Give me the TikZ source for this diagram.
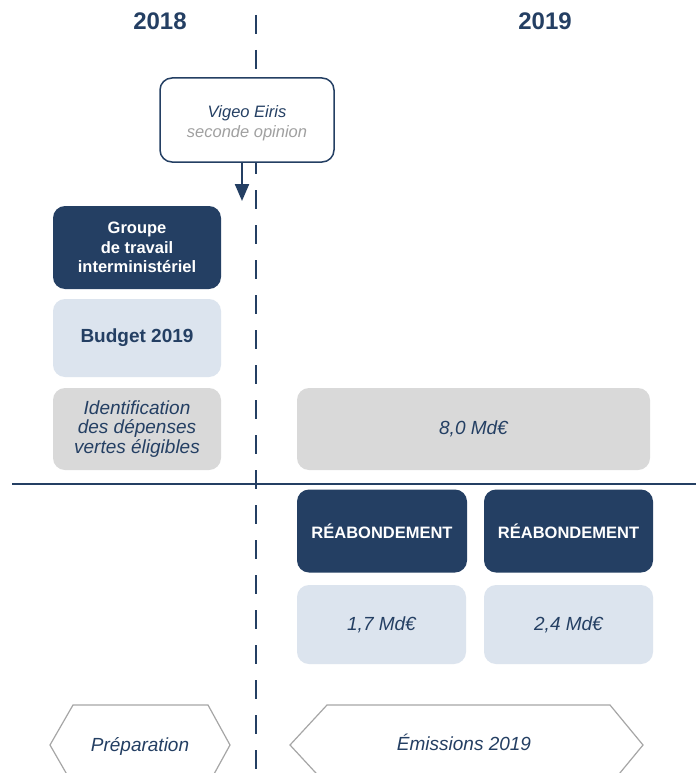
\documentclass[tikz,border=0pt]{standalone}
\usepackage{fontspec}
\setmainfont{Liberation Sans}
\usetikzlibrary{arrows.meta}
\definecolor{navy}{HTML}{243F63}
\definecolor{paleblue}{HTML}{DCE4EE}
\definecolor{palegray}{HTML}{D9D9D9}
\definecolor{midgray}{HTML}{A6A6A6}
\definecolor{softgray}{HTML}{A0A0A0}
\tikzset{
  box/.style={rounded corners=12pt, inner sep=0pt, align=center, text=navy},
  darkbox/.style={box, fill=navy, text=white, font=\bfseries\fontsize{16.5}{19.5}\selectfont},
  lightbox/.style={box, fill=paleblue},
  greybox/.style={box, fill=palegray},
  itext/.style={font=\itshape\fontsize{19}{19.5}\selectfont},
  year/.style={text=navy, font=\bfseries\fontsize{24}{26}\selectfont},
  hexa/.style={draw=midgray, line width=1.2pt, fill=white},
}
\begin{document}
\begin{tikzpicture}[x=1pt, y=-1pt]
\clip (0,0) rectangle (696,773);
\fill[white] (0,0) rectangle (696,773);

% year headings
\node[year] (y2018) at (160,21) {2018};
\node[year] (y2019) at (545,21) {2019};

% timeline divisions
\coordinate (divtop) at (256,15);
\coordinate (divbot) at (256,773);
\draw[navy, line width=1.5pt, dash pattern=on 19pt off 16pt] (divtop) -- (divbot);
\coordinate (hleft) at (12,484);
\coordinate (hright) at (696,484);
\draw[navy, line width=1.5pt] (hleft) -- (hright);

% second opinion
\node[box, draw=navy, line width=1.5pt, fill=white, minimum width=174pt, minimum height=84pt] (vigeo) at (247,120) {};
\node[text=navy, align=center, font=\itshape\fontsize{16.5}{20}\selectfont] (vigeotxt) at (247,123)
  {Vigeo Eiris\\\textcolor{softgray}{seconde opinion}};
\coordinate (arrowtip) at (242,201);
\draw[navy, line width=2.2pt, -{Triangle[width=14pt,length=17pt]}] (vigeo.south -| arrowtip) -- (arrowtip);

% 2018 column
\node[darkbox, minimum width=168pt, minimum height=83pt] (groupe) at (137,247.5)
  {Groupe\\de travail\\interministériel};
\node[lightbox, minimum width=168pt, minimum height=78pt,
      font=\bfseries\fontsize{19}{19}\selectfont] (budget) at (137,338) {Budget 2019};
\node[greybox, itext, minimum width=168pt, minimum height=82pt] (ident) at (137,429)
  {Identification\\des dépenses\\vertes éligibles};

% 2019 column
\node[greybox, itext, minimum width=353pt, minimum height=82pt] (total) at (473.5,429) {8,0 Md€};
\node[darkbox, minimum width=170pt, minimum height=83pt] (reab1) at (382,531) {RÉABONDEMENT};
\node[darkbox, minimum width=169pt, minimum height=83pt] (reab2) at (568.5,531) {RÉABONDEMENT};
\node[lightbox, itext, minimum width=169pt, minimum height=79pt] (amt1) at (381.5,624.5) {1,7 Md€};
\node[lightbox, itext, minimum width=169pt, minimum height=79pt] (amt2) at (568.5,624.5) {2,4 Md€};

% phases
\draw[hexa] (50,745) -- (73,705) -- (208,705) -- (230,745) -- (208,785) -- (73,785) -- cycle;
\node[text=navy, itext] (prep) at (140,746) {Préparation};
\draw[hexa] (290,745) -- (327,705) -- (610,705) -- (643,745) -- (610,785) -- (327,785) -- cycle;
\node[text=navy, itext] (emis) at (464,742) {Émissions 2019};
\end{tikzpicture}
\end{document}
